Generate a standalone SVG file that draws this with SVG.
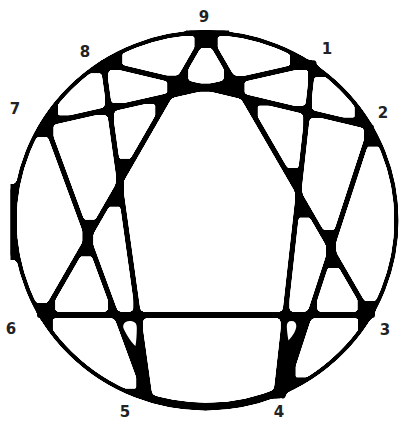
<svg xmlns="http://www.w3.org/2000/svg" width="403" height="422" viewBox="0 0 403 422">
<style>
.ln{stroke:#000;stroke-width:5;stroke-linecap:round;fill:none}
.rim{stroke:#000;stroke-width:3.8;fill:none}
.hole{fill:#fff}
.lbl{font-family:"DejaVu Sans",sans-serif;font-weight:bold;font-size:15px;fill:#222;text-anchor:middle}
</style>
<defs>
<filter id="goo" x="0" y="0" width="403" height="422" filterUnits="userSpaceOnUse" color-interpolation-filters="sRGB">
<feMorphology in="SourceAlpha" operator="dilate" radius="4" result="d"/>
<feGaussianBlur in="d" stdDeviation="2.5" result="db"/>
<feComponentTransfer in="db" result="dt"><feFuncA type="linear" slope="20" intercept="-9.5"/></feComponentTransfer>
<feMorphology in="dt" operator="erode" radius="4" result="e"/>
<feGaussianBlur in="e" stdDeviation="0.6" result="es"/>
<feMerge><feMergeNode in="es"/><feMergeNode in="SourceGraphic"/></feMerge>
</filter>
</defs>
<rect width="403" height="422" fill="#fff"/>
<g filter="url(#goo)">
<g id="rim">
<ellipse class="rim" cx="205.5" cy="220.5" rx="191" ry="188"/>
<path class="rim" d="M145,396.2 A188.5,185.5 0 0 0 280,390.9" style="stroke-width:6"/>
<rect x="10.5" y="184" width="6" height="76" fill="#000"/>
<rect x="186" y="30.5" width="43" height="4" fill="#000"/>
</g>
<g id="connectors">
<line class="ln" x1="206" y1="33" x2="370" y2="316"/>
<line class="ln" x1="206" y1="33" x2="43" y2="316"/>
<line class="ln" x1="40" y1="315" x2="372" y2="315" style="stroke-width:6"/>
<line class="ln" x1="313" y1="63" x2="276" y2="396"/>
<line class="ln" x1="283" y1="396" x2="371" y2="127"/>
<line class="ln" x1="371" y1="127" x2="102" y2="63"/>
<line class="ln" x1="103" y1="63" x2="150" y2="399"/>
<line class="ln" x1="146" y1="396" x2="46" y2="124"/>
<line class="ln" x1="44" y1="124" x2="314" y2="63"/>
<polygon points="117.2,318 138.9,318 150,399 146,396"/>
<polygon points="284.7,318 308.5,318 283,396 276,396"/>
</g>
</g>
<g id="holes">
<path class="hole" d="M129.5,321 C134.5,321 136.8,323 136.8,328 C136.8,335 136.3,341 135.5,346 C132,343 126.5,335 123.8,329 C122,325 124.5,321 129.5,321 Z"/>
<path class="hole" d="M291.5,321 C294.8,321 296.3,323 296.3,326 C296.3,330 293,335.5 288.5,340.5 C287.6,336 286.8,330 286.8,326 C286.8,323 288.2,321 291.5,321 Z"/>
</g>
<g id="node-9"><text class="lbl" x="204" y="22">9</text></g>
<g id="node-1"><text class="lbl" x="327" y="54">1</text></g>
<g id="node-2"><text class="lbl" x="383" y="118">2</text></g>
<g id="node-3"><text class="lbl" x="385" y="335">3</text></g>
<g id="node-4"><text class="lbl" x="279" y="417">4</text></g>
<g id="node-5"><text class="lbl" x="125" y="417">5</text></g>
<g id="node-6"><text class="lbl" x="11" y="334">6</text></g>
<g id="node-7"><text class="lbl" x="15" y="114">7</text></g>
<g id="node-8"><text class="lbl" x="85" y="57">8</text></g>
</svg>
